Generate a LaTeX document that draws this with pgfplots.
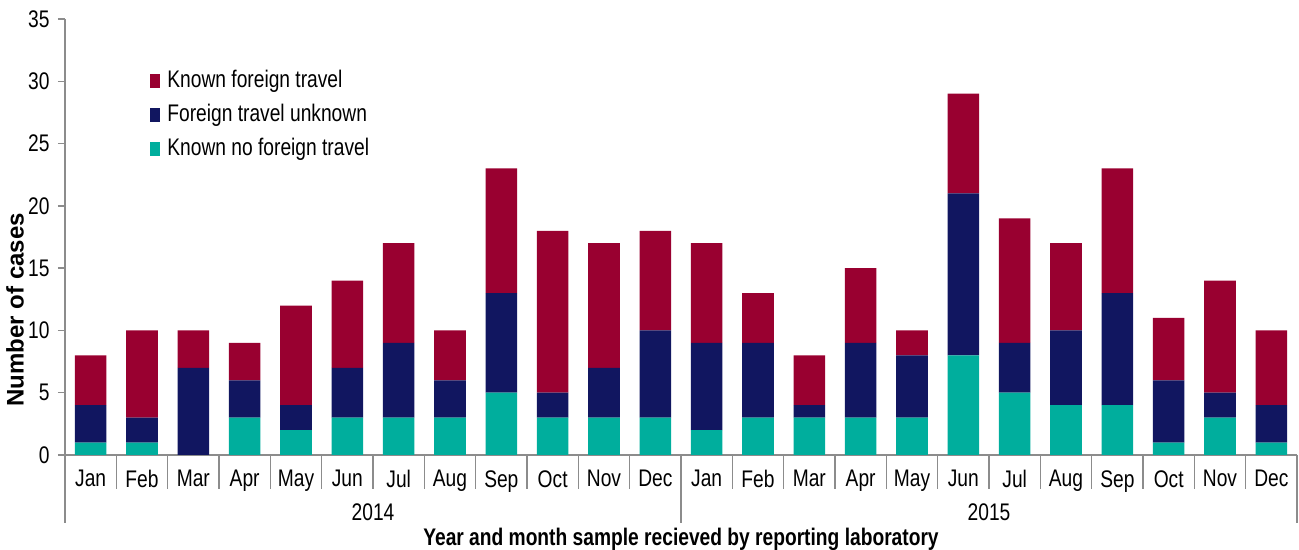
\documentclass[border=0pt]{standalone}
\usepackage{fontspec}
\setmainfont{Liberation Sans}[FakeStretch=0.8]
\newfontfamily\ylabfont{Liberation Sans}
\usepackage{pgfplots}
\usepackage{pgfplotstable}
\pgfplotsset{compat=1.18}
\definecolor{kft}{HTML}{990030}
\definecolor{ftu}{HTML}{111660}
\definecolor{knft}{HTML}{00AE9D}
\definecolor{axgray}{HTML}{8C8C8C}

% month index, known no foreign travel, unknown, known foreign travel
\pgfplotstableread{
x  knft ftu kft
0  1  3  4
1  1  2  7
2  0  7  3
3  3  3  3
4  2  2  8
5  3  4  7
6  3  6  8
7  3  3  4
8  5  8  10
9  3  2  13
10 3  4  10
11 3  7  8
12 2  7  8
13 3  6  4
14 3  1  4
15 3  6  6
16 3  5  2
17 8  13 8
18 5  4  10
19 4  6  7
20 4  9  10
21 1  5  5
22 3  2  9
23 1  3  6
}\cases

\begin{document}
\fontsize{12pt}{14pt}\selectfont
\begin{tikzpicture}
\begin{axis}[
  width=616pt, height=218pt, scale only axis,
  ybar stacked, bar width=15.8pt,
  xmin=-0.5, xmax=23.5, ymin=0, ymax=35,
  clip=false,
  axis x line*=bottom, axis y line*=left,
  axis line style={axgray, line width=0.7pt},
  xtick={0,...,23},
  xticklabels={Jan,Feb,Mar,Apr,May,Jun,Jul,Aug,Sep,Oct,Nov,Dec,
               Jan,Feb,Mar,Apr,May,Jun,Jul,Aug,Sep,Oct,Nov,Dec},
  x tick style={draw=none},
  xticklabel style={yshift=0pt},
  ytick={0,5,...,35},
  y tick style={axgray, line width=0.7pt},
  tick align=outside, major tick length=3.5pt,
  tick label style={font=\fontsize{12pt}{14pt}\selectfont},
  /pgf/number format/assume math mode=true,
  xlabel={\bfseries Year and month sample recieved by reporting laboratory},
  every axis x label/.style={at={(axis description cs:0.5,0)},anchor=center,yshift=-42pt},
  ylabel={\ylabfont\bfseries Number of cases},
  every axis y label/.style={at={([xshift=-25pt]axis description cs:0,0.333)},anchor=center,rotate=90},
  legend style={at={(0.069,0.888)}, anchor=north west, draw=none, fill=none,
    inner sep=0pt, row sep=4.5pt,
    font=\fontsize{12pt}{14pt}\selectfont,
    nodes={inner sep=1pt}},
  legend cell align=left,
  reverse legend,
  legend image code/.code={\fill[#1] (0pt,-3.5pt) rectangle (5pt,3.5pt);},
]
\addplot[fill=knft, draw=none] table[x=x, y=knft] {\cases};
\addplot[fill=ftu, draw=none] table[x=x, y=ftu] {\cases};
\addplot[fill=kft, draw=none] table[x=x, y=kft] {\cases};
\legend{\hspace{2.5pt}Known no foreign travel, \hspace{2.5pt}Foreign travel unknown, \hspace{2.5pt}Known foreign travel}

% month separators
\pgfplotsinvokeforeach{0.5,1.5,2.5,3.5,4.5,5.5,6.5,7.5,8.5,9.5,10.5,12.5,13.5,14.5,15.5,16.5,17.5,18.5,19.5,20.5,21.5,22.5}{
  \draw[axgray, line width=0.7pt] (axis cs:#1,0) -- ++(0pt,-17pt);
}
% year separators
\pgfplotsinvokeforeach{-0.5,11.5,23.5}{
  \draw[axgray, line width=0.7pt] (axis cs:#1,0) -- ++(0pt,-34pt);
}
\node at ([yshift=-28.5pt]axis cs:5.5,0) {2014};
\node at ([yshift=-28.5pt]axis cs:17.5,0) {2015};
\end{axis}
\pgfresetboundingbox
\path ([shift={(-32.5pt,-47.5pt)}]current axis.south west) rectangle ([shift={(1pt,9.5pt)}]current axis.north east);
\end{tikzpicture}
\end{document}
